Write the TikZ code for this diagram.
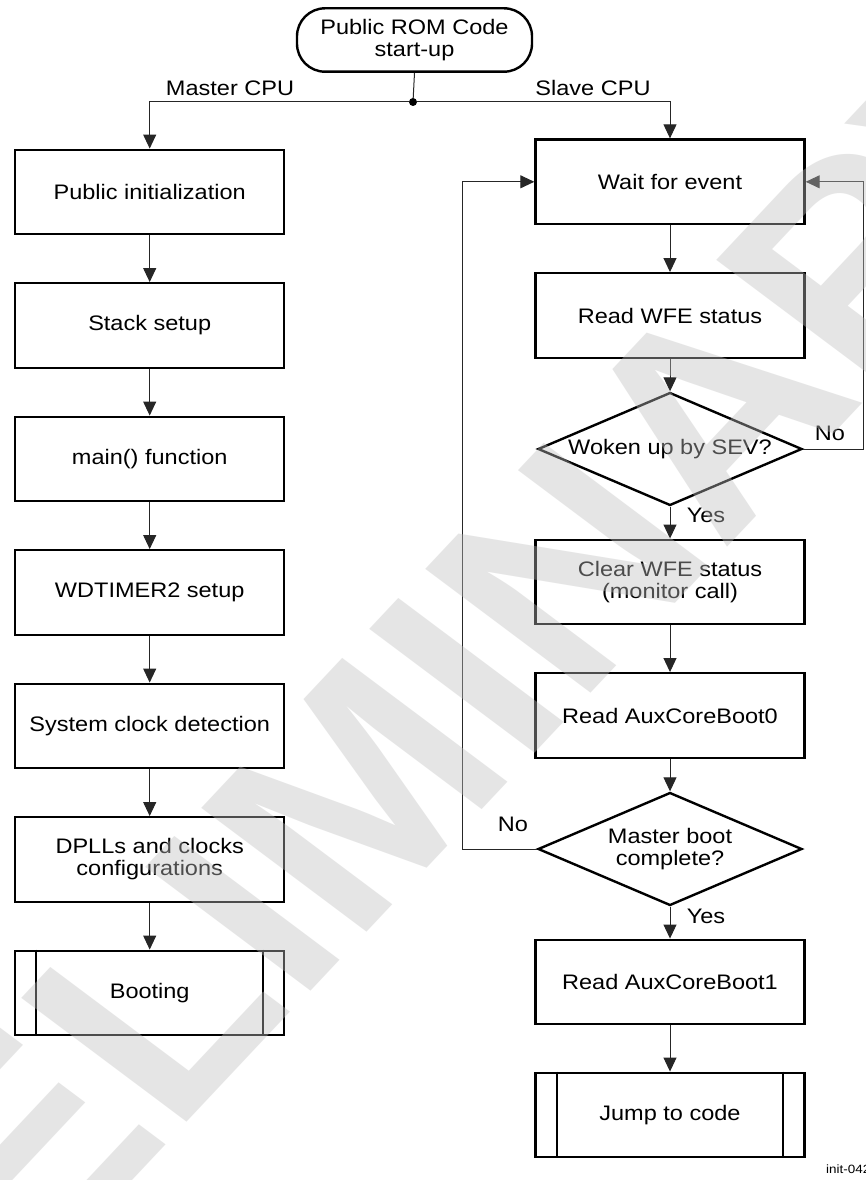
\documentclass[tikz,border=0pt]{standalone}
\usepackage{fontspec}
\setmainfont{Liberation Sans}[FakeStretch=1.12]
\newfontfamily\wmfont{Liberation Sans}
\usetikzlibrary{arrows.meta,shapes.geometric,calc}
\begin{document}
\begin{tikzpicture}[x=1pt,y=-1pt,
  base/.style={font=\fontsize{21}{22}\selectfont, align=center},
  procbox/.style={base, draw=black, line width=2.4pt, minimum width=269pt, minimum height=84.5pt, inner sep=0pt},
  subproc/.style={procbox},
  termbox/.style={base, draw=black, line width=2.4pt, rounded corners=28pt, minimum width=235pt, minimum height=63.4pt, inner sep=0pt},
  decbox/.style={draw=black, line width=2.4pt, shape=diamond, minimum width=264pt, minimum height=113pt, inner sep=0pt},
  dectext/.style={base, inner sep=0pt},
  lbl/.style={font=\fontsize{21}{22}\selectfont, inner sep=0pt},
  conn/.style={draw=black!85, line width=1pt, -{Triangle[length=14pt,width=13pt]}},
  plainline/.style={draw=black!85, line width=1pt},
  inner/.style={draw=black, line width=2pt},
  jdot/.style={circle, fill=black, inner sep=0pt, minimum size=8pt},
]
\useasboundingbox (0,0) rectangle (865,1180);
\fill[white] (0,0) rectangle (865,1180);

% start
\node[termbox] (start) at (414.5,40) {Public ROM Code\\start-up};
\node[jdot] (jn) at (413,102) {};

% left column
\node[procbox] (b1) at (149.7,192) {Public initialization};
\node[procbox] (b2) at (149.7,325.5) {Stack setup};
\node[procbox] (b3) at (149.7,459) {main() function};
\node[procbox] (b4) at (149.7,592.5) {WDTIMER2 setup};
\node[procbox] (b5) at (149.7,726) {System clock detection};
\node[procbox] (b6) at (149.7,859.5) {DPLLs and clocks\\configurations};
\node[subproc] (b7) at (149.7,993) {Booting};
\draw[inner] ([xshift=22.3pt]b7.north west) -- ([xshift=22.3pt]b7.south west);
\draw[inner] ([xshift=-22.3pt]b7.north east) -- ([xshift=-22.3pt]b7.south east);

% right column
\node[procbox] (w) at (670,181.8) {Wait for event};
\node[procbox] (r1) at (670,315.5) {Read WFE status};
\node[decbox] (d1) at (670,449) {};
\node[dectext] (d1t) at (d1.center) {Woken up by SEV?};
\node[procbox] (c) at (670,582) {Clear WFE status\\(monitor call)};
\node[procbox] (r0) at (670,715.5) {Read AuxCoreBoot0};
\node[decbox] (d2) at (670,849) {};
\node[dectext] (d2t) at (d2.center) {Master boot\\complete?};
\node[procbox] (rb1) at (670,982) {Read AuxCoreBoot1};
\node[subproc] (j) at (670,1115) {Jump to code};
\draw[inner] ([xshift=22.3pt]j.north west) -- ([xshift=22.3pt]j.south west);
\draw[inner] ([xshift=-22.3pt]j.north east) -- ([xshift=-22.3pt]j.south east);

% labels
\node[lbl] (lm) at (230,88) {Master CPU};
\node[lbl] (ls) at (593,88) {Slave CPU};
\node[lbl] (n1) at (830,433) {No};
\node[lbl] (y1) at (706,515.5) {Yes};
\node[lbl] (n2) at (513,824) {No};
\node[lbl] (y2) at (706,916) {Yes};
\node[font=\fontsize{12}{12}\selectfont, inner sep=0pt, anchor=base west] (tag) at (826,1173) {init-042};

% connectors
\draw[plainline] (start.south) -- (jn);
\draw[conn] (jn) -| (b1.north);
\draw[conn] (jn) -| (w.north);
\draw[conn] (b1) -- (b2);
\draw[conn] (b2) -- (b3);
\draw[conn] (b3) -- (b4);
\draw[conn] (b4) -- (b5);
\draw[conn] (b5) -- (b6);
\draw[conn] (b6) -- (b7);

\draw[conn] (w) -- (r1);
\draw[conn] (r1.south) -- (d1.north);
\draw[conn] (d1.south) -- (c.north);
\draw[conn] (c) -- (r0);
\draw[conn] (r0.south) -- (d2.north);
\draw[conn] (d2.south) -- (rb1.north);
\draw[conn] (rb1) -- (j);

\coordinate (lx) at (462.5,0);
\coordinate (rx) at (863.8,0);
\draw[conn] (d2.west) -- (d2.west -| lx) |- (w.west);
\draw[conn] (d1.east) -- (d1.east -| rx) |- (w.east);

% watermark
\begin{scope}[shift={(367.5,781)}, xscale=1.12]
\node[rotate=50, transform shape, text=black!25, opacity=0.4, text opacity=0.4, inner sep=0pt,
      font={\wmfont\bfseries\fontsize{280}{280}\selectfont}] (wm) at (0,0) {PRELIMINARY};
\end{scope}
\end{tikzpicture}
\end{document}
